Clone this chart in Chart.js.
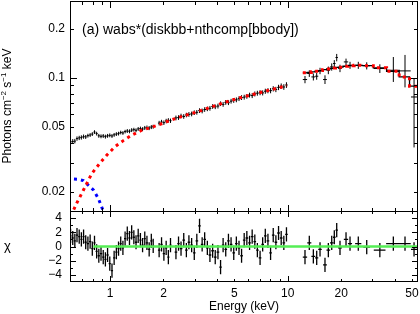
<!DOCTYPE html>
<html><head><meta charset="utf-8">
<script src="https://cdn.jsdelivr.net/npm/chart.js@4.4.1/dist/chart.umd.min.js"></script>
<style>
html,body{margin:0;padding:0;background:#fff;}
#wrap{position:relative;width:420px;height:314px;overflow:hidden;background:#fff}
canvas{position:absolute;left:0}
#top{top:0}
#bot{top:211px}
</style></head><body>
<div id="wrap"><canvas id="top" width="420" height="212"></canvas><canvas id="bot" width="420" height="103"></canvas></div>
<script>
// ---------------- data ----------------
const softE = [0.600,0.617,0.634,0.652,0.671,0.690,0.710,0.730,0.751,0.773,0.795,0.818,0.841,0.865,0.890,0.916,0.942,0.969,0.997,1.026,1.055,1.086,1.117,1.149,1.182,1.216,1.251,1.287,1.324,1.362,1.401,1.441,1.483,1.525,1.569,1.614,1.661,1.708,1.750,
  1.89,1.95,2.01,2.07,2.13,2.19,
  2.35,2.43,2.51,2.60,2.69,2.78,2.88,2.98,3.08,3.19,3.30,3.41,3.53,3.65,3.78,3.91,4.05,4.19,4.33,4.48,4.64,4.80,4.97,5.14,5.32,5.50,5.69,5.89,6.10,6.31,6.53,6.75,6.99,7.23,7.48,7.74,8.01,8.29,8.58,8.88,9.19,9.51,9.84];
const softFlux = [0.0405,0.0407,0.0409,0.0424,0.0428,0.0431,0.0436,0.0434,0.0442,0.0446,0.0452,0.0465,0.0455,0.0441,0.0438,0.0440,0.0436,0.0441,0.0444,0.0440,0.0447,0.0452,0.0455,0.0462,0.0459,0.0468,0.0472,0.0470,0.0478,0.0481,0.0477,0.0486,0.0489,0.0485,0.0493,0.0496,0.0492,0.0499,0.0502,
  0.0528,0.0536,0.0531,0.0544,0.0549,0.0546,
  0.0568,0.0571,0.0584,0.0580,0.0592,0.0597,0.0601,0.0612,0.0615,0.0630,0.0627,0.0640,0.0646,0.0651,0.0668,0.0665,0.0672,0.0695,0.0688,0.0708,0.0705,0.0720,0.0728,0.0734,0.0746,0.0758,0.0762,0.0771,0.0785,0.0779,0.0798,0.0806,0.0812,0.0810,0.0829,0.0835,0.0836,0.0858,0.0850,0.0875,0.0891,0.0880,0.0905];
const softErr = [0.0014,0.0014,0.0013,0.0013,0.0013,0.0013,0.0013,0.0012,0.0012,0.0012,0.0012,0.0012,0.0012,0.0012,0.0012,0.0012,0.0012,0.0012,0.0012,0.0012,0.0012,0.0012,0.0012,0.0012,0.0012,0.0012,0.0013,0.0013,0.0013,0.0013,0.0013,0.0013,0.0013,0.0013,0.0014,0.0014,0.0014,0.0014,0.0014,
  0.0017,0.0017,0.0017,0.0017,0.0017,0.0017,
  0.0019,0.0019,0.0019,0.0019,0.0019,0.0020,0.0020,0.0020,0.0020,0.0021,0.0021,0.0021,0.0021,0.0022,0.0022,0.0022,0.0023,0.0023,0.0023,0.0024,0.0024,0.0024,0.0025,0.0025,0.0025,0.0026,0.0026,0.0026,0.0027,0.0027,0.0028,0.0028,0.0029,0.0029,0.0030,0.0030,0.0031,0.0032,0.0032,0.0033,0.0034,0.0035,0.0036];
const softRes = [1.5,1.2,0.8,1.6,1.4,1.0,1.4,0.6,0.4,0.7,-0.3,0.5,-0.7,-1.3,-1.0,-1.5,-1.8,-1.2,-2.4,-3.4,-1.6,-0.8,-0.3,0.4,-0.2,1.1,1.8,1.2,2.0,1.3,0.6,1.5,0.9,0.2,1.1,0.5,-0.4,0.8,0.1,
  -0.5,0.3,-1.0,-0.2,-1.5,0.2,
  -0.8,0.4,-0.3,0.9,-0.5,0.6,0.2,-0.9,0.8,2.9,0.3,1.0,-0.2,-1.2,-0.6,-1.5,-0.8,-2.9,0.2,-0.4,0.8,0.3,-0.9,0.4,-0.2,-1.3,0.9,1.2,0.5,1.4,0.7,-0.5,-1.6,0.3,1.5,0.8,-0.9,1.6,0.6,1.9,1.2,0.5,1.7];

const hardE   = [12.51,13.23,13.94,14.56,15.20,16.21,16.93,17.69,18.29,18.87,19.69,21.29,22.42,24.96,27.84,33.0,39.3,45.72,51.4];
const hardDE  = [0.35,0.35,0.35,0.30,0.35,0.40,0.40,0.40,0.30,0.30,0.50,0.60,0.60,1.0,1.2,2.5,3.5,3.5,2.0];
const hardFlux= [0.0978,0.1065,0.1015,0.1025,0.1105,0.0978,0.1115,0.1169,0.1227,0.1335,0.1146,0.1255,0.1197,0.1197,0.1188,0.1143,0.1115,0.1105,0.0764];
const hardErrLo=[0.005,0.005,0.005,0.005,0.005,0.006,0.006,0.006,0.006,0.007,0.006,0.006,0.006,0.006,0.006,0.007,0.017,0.023,0.039];
const hardErrHi=[0.005,0.005,0.005,0.005,0.005,0.006,0.006,0.006,0.006,0.007,0.006,0.006,0.006,0.006,0.006,0.007,0.023,0.028,0.023];
const hardRes = [-1.5,0.5,-1.4,-1.6,-0.4,-2.6,-0.5,0.5,1.3,2.3,-0.2,1.0,0.4,0.4,-0.1,-0.5,0.4,0.4,-0.4];
const hardModel=[0.1075,0.1080,0.1090,0.1100,0.1110,0.1125,0.1135,0.1145,0.1150,0.1160,0.1165,0.1180,0.1190,0.1195,0.1190,0.1155,0.1100,0.1015,0.0890];
const hardEdges = [12.16, 53.4];

const nthcompE = [0.625,0.650,0.708,0.789,0.879,0.958,1.067,1.188,1.324,1.507,1.679,1.911,2.176,2.6,3.21,4.16,5.2,6.13,7.5,8.7,9.9];
const nthcompF = [0.0155,0.0170,0.0204,0.0258,0.0300,0.0335,0.0378,0.0412,0.0445,0.0477,0.0494,0.0518,0.0549,0.0585,0.0627,0.0692,0.0748,0.0784,0.0830,0.0865,0.0897];
const diskbbE = [0.627,0.663,0.708,0.755,0.806,0.859,0.898,0.925];
const diskbbF = [0.0239,0.0238,0.0234,0.0219,0.0205,0.0182,0.0161,0.0148];
const zeroLineE = [0.806, 54.1];

const xTickLabels = [1,2,5,10,20,50];
const xMajorTicks = [1,10];
const xMinorTicks = [0.7,0.8,0.9,2,3,4,5,6,7,8,9,20,30,40,50];
const yTickLabels = [0.02,0.05,0.1,0.2];
const yMajorTicks = [0.1];
const yMinorTicks = [0.02,0.03,0.04,0.05,0.06,0.07,0.08,0.09,0.2];
const resTickLabels = [-4,-2,0,2,4];
const resMajorTicks = [-4,-2,0,2,4];
const resMinorTicks = [-3,-1,1,3];

// ---------------- helpers ----------------
const FONT = '"Liberation Sans", Arial, Helvetica, sans-serif';
Chart.defaults.font.family = FONT;
Chart.defaults.color = '#000';

function binEdges(E){
  const lo=[],hi=[];
  for(let i=0;i<E.length;i++){
    const pr = i>0 ? E[i]/E[i-1] : Infinity;
    const nr = i<E.length-1 ? E[i+1]/E[i] : Infinity;
    const rl = pr<1.05 ? pr : nr, rh = nr<1.05 ? nr : pr;
    lo.push(E[i]/Math.sqrt(rl)); hi.push(E[i]*Math.sqrt(rh));
  }
  return [lo,hi];
}
function crosses(E, Y, xlo, xhi, ylo, yhi){
  const d=[];
  for(let i=0;i<E.length;i++){
    d.push({x:xlo[i],y:Y[i]},{x:xhi[i],y:Y[i]},{x:xhi[i],y:null});
    d.push({x:E[i],y:ylo[i]},{x:E[i],y:yhi[i]},{x:E[i],y:null});
  }
  return d;
}
const [sLo,sHi] = binEdges(softE);
const hLo = hardE.map((e,i)=>e-hardDE[i]), hHi = hardE.map((e,i)=>e+hardDE[i]);

const fluxBars = crosses(softE, softFlux, sLo, sHi, softFlux.map((f,i)=>f-softErr[i]), softFlux.map((f,i)=>f+softErr[i]))
  .concat(crosses(hardE, hardFlux, hLo, hHi, hardFlux.map((f,i)=>f-hardErrLo[i]), hardFlux.map((f,i)=>f+hardErrHi[i])));
const resBars = crosses(softE, softRes, sLo, sHi, softRes.map(r=>r-1), softRes.map(r=>r+1))
  .concat(crosses(hardE, hardRes, hLo, hHi, hardRes.map(r=>r-1), hardRes.map(r=>r+1)));

const modelStep = [{x:hardEdges[0],y:hardModel[0]}].concat(hardE.map((e,i)=>({x:e,y:hardModel[i]})),[{x:hardEdges[1],y:hardModel[hardModel.length-1]}]);
const nthSoft = nthcompE.map((e,i)=>({x:e,y:nthcompF[i]}));
const diskPts = diskbbE.map((e,i)=>({x:e,y:diskbbF[i]}));

function noPad(s){ s.paddingTop=0; s.paddingBottom=0; s.paddingLeft=0; s.paddingRight=0; }

function framePlugin(xMaj, xMin, yMaj, yMin, lenMaj, lenMin, drawText){
  return {
    id:'frame',
    afterDatasetsDraw(chart){
      const {ctx, chartArea:a, scales} = chart;
      ctx.save();
      ctx.strokeStyle='#000'; ctx.lineWidth=1;
      ctx.strokeRect(a.left+0.5, a.top+0.5, a.right-a.left-1, a.bottom-a.top-1);
      ctx.beginPath();
      const xt = xMaj.map(v=>[v,lenMaj]).concat(xMin.map(v=>[v,lenMin]));
      const yt = yMaj.map(v=>[v,lenMaj]).concat(yMin.map(v=>[v,lenMin]));
      for(const [v,l] of xt){ const p=Math.round(scales.x.getPixelForValue(v))+0.5; ctx.moveTo(p,a.top); ctx.lineTo(p,a.top+l); ctx.moveTo(p,a.bottom); ctx.lineTo(p,a.bottom-l); }
      for(const [v,l] of yt){ const p=Math.round(scales.y.getPixelForValue(v))+0.5; ctx.moveTo(a.left,p); ctx.lineTo(a.left+l,p); ctx.moveTo(a.right,p); ctx.lineTo(a.right-l,p); }
      ctx.stroke();
      ctx.restore();
      if(drawText){ ctx.save(); drawText(ctx, chart); ctx.restore(); }
    }
  };
}

const fmtRes = v => v<0 ? '\u2212'+(-v) : String(v);

// ---------------- top panel ----------------
new Chart(document.getElementById('top'), {
  type:'scatter',
  data:{datasets:[
    {data:nthSoft, showLine:true, borderColor:'#ff0000', borderWidth:3, borderDash:[3,4], pointRadius:0, order:0},
    {data:modelStep, showLine:true, stepped:'middle', borderColor:'#ff0000', borderWidth:3, borderDash:[3,4], pointRadius:0, order:0},
    {data:diskPts, showLine:true, borderColor:'#0000ff', borderWidth:3, borderDash:[3,4], pointRadius:0, order:1},
    {data:modelStep, showLine:true, stepped:'middle', borderColor:'#000', borderWidth:1.3, pointRadius:0, order:2},
    {data:fluxBars, showLine:true, borderColor:'#000', borderWidth:1, pointRadius:0, order:3}
  ]},
  options:{
    responsive:false, animation:false, devicePixelRatio:1,
    layout:{padding:{top:1,right:2,left:0,bottom:0}},
    plugins:{legend:{display:false}, tooltip:{enabled:false}},
    scales:{
      x:{type:'logarithmic', min:0.5955, max:54.1, display:false},
      y:{type:'logarithmic', min:0.0150, max:0.2972,
         grid:{display:false, drawTicks:false}, border:{display:false},
         afterFit:s=>{s.width=70; noPad(s);},
         afterBuildTicks:s=>{s.ticks=yTickLabels.map(v=>({value:v}));},
         ticks:{autoSkip:false, padding:5, font:{size:12}, callback:v=>String(v)}}
    }
  },
  plugins:[framePlugin(xMajorTicks, xMinorTicks, yMajorTicks, yMinorTicks, 7, 4, (ctx)=>{
    ctx.fillStyle='#000';
    ctx.font='14px '+FONT; ctx.textBaseline='alphabetic'; ctx.textAlign='left';
    ctx.fillText('(a) wabs*(diskbb+nthcomp[bbody])', 82, 34);
    const parts=[['Photons cm',0],['\u22122',1],[' s',0],['\u22121',1],[' keV',0]];
    const fN='12px '+FONT, fS='8px '+FONT;
    let w=0; for(const [t,s] of parts){ ctx.font=s?fS:fN; w+=ctx.measureText(t).width; }
    ctx.translate(10.5,106); ctx.rotate(-Math.PI/2);
    let x=-w/2;
    for(const [t,s] of parts){ ctx.font=s?fS:fN; ctx.fillText(t,x,s?-4.5:0); x+=ctx.measureText(t).width; }
  })]
});

// ---------------- residual panel ----------------
new Chart(document.getElementById('bot'), {
  type:'scatter',
  data:{datasets:[
    {data:zeroLineE.map(e=>({x:e,y:0})), showLine:true, borderColor:'#55ee55', borderWidth:2.5, pointRadius:0, order:0},
    {data:resBars, showLine:true, borderColor:'#000', borderWidth:1.3, pointRadius:0, order:1}
  ]},
  options:{
    responsive:false, animation:false, devicePixelRatio:1,
    layout:{padding:{top:0,right:2,left:0,bottom:0}},
    plugins:{legend:{display:false}, tooltip:{enabled:false}},
    scales:{
      x:{type:'logarithmic', min:0.5955, max:54.1,
         grid:{display:false, drawTicks:false}, border:{display:false},
         afterFit:s=>{s.height=32; noPad(s);},
         afterBuildTicks:s=>{s.ticks=xTickLabels.map(v=>({value:v}));},
         ticks:{autoSkip:false, maxRotation:0, padding:4, font:{size:12}, callback:v=>String(v)}},
      y:{type:'linear', min:-5, max:5,
         grid:{display:false, drawTicks:false}, border:{display:false},
         afterFit:s=>{s.width=70; noPad(s);},
         afterBuildTicks:s=>{s.ticks=resTickLabels.map(v=>({value:v}));},
         ticks:{autoSkip:false, padding:8, font:{size:12}, callback:v=>fmtRes(v)}}
    }
  },
  plugins:[framePlugin(xMajorTicks, xMinorTicks, resMajorTicks, resMinorTicks, 6, 3, (ctx)=>{
    ctx.fillStyle='#000';
    ctx.font='13px '+FONT; ctx.textAlign='center'; ctx.textBaseline='middle';
    ctx.fillText('\u03c7', 7.5, 35.5);
    ctx.font='12px '+FONT; ctx.textBaseline='alphabetic';
    ctx.fillText('Energy (keV)', 244, 99);
  })]
});
</script>
</body></html>
